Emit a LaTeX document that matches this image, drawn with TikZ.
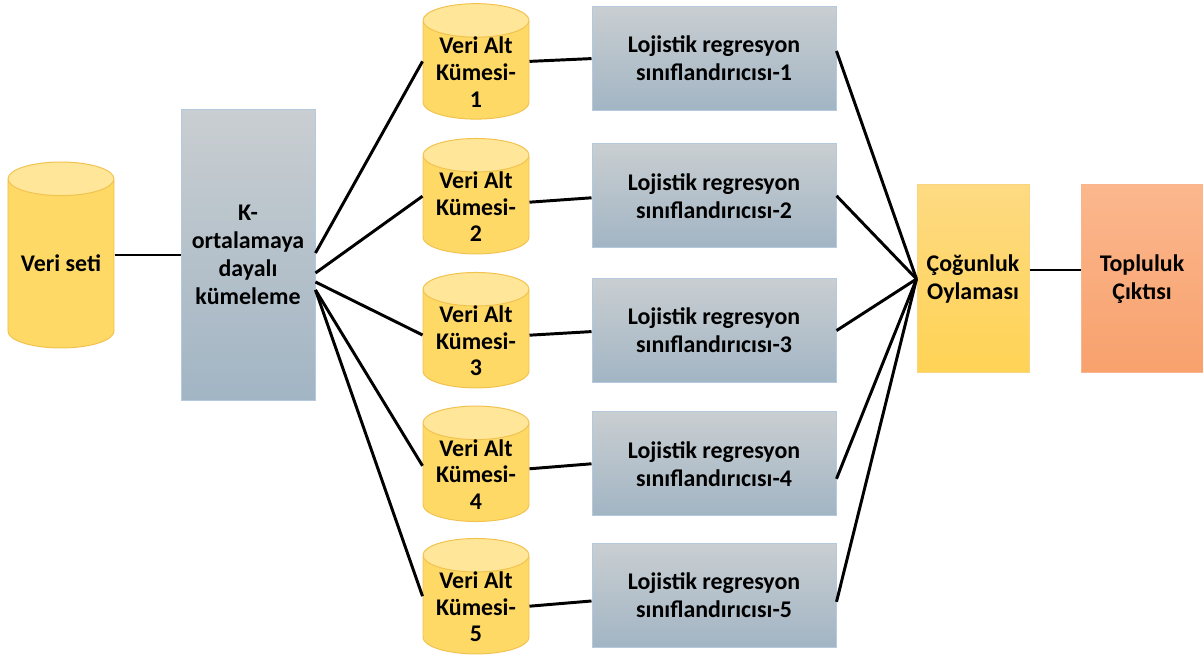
\documentclass[tikz,border=0pt]{standalone}
\usepackage{fontspec}
\setmainfont{Carlito}
\usepackage{tikz}
\usetikzlibrary{%
  shapes.geometric%
}
\definecolor{cylbody}{HTML}{FFD966}
\definecolor{cyltop}{HTML}{FFE699}
\definecolor{cylline}{HTML}{F2C24E}
\definecolor{greytop}{HTML}{C9CED1}
\definecolor{greybot}{HTML}{A2B5C4}
\definecolor{greyline}{HTML}{B4C8DE}
\definecolor{votetop}{HTML}{FEDA82}
\definecolor{votebot}{HTML}{FFD355}
\definecolor{voteline}{HTML}{F8D583}
\definecolor{outtop}{HTML}{FBB78D}
\definecolor{outbot}{HTML}{F8A16D}
\definecolor{outline}{HTML}{F9B58B}
\newcommand{\cyltext}[1]{\raisebox{0pt}[31pt][15pt]{\fontsize{17}{18.9}\selectfont
  \begin{tabular}{@{}c@{}}#1\end{tabular}}}

\begin{document}
\begin{tikzpicture}[
  font=\fontsize{17}{19.9}\selectfont\bfseries,
  link/.style={line width=2.1pt},
  datacyl/.style={cylinder, shape border rotate=90, aspect=0.42,
    draw=cylline, line width=0.7pt, cylinder uses custom fill,
    cylinder body fill=cylbody, cylinder end fill=cyltop,
    minimum width=2.65cm, inner sep=0pt, anchor=shape center},
  greybox/.style={rectangle, draw=greyline, line width=0.7pt,
    top color=greytop, bottom color=greybot, align=center}
]
\useasboundingbox (0,0) rectangle (30.075,16.375);

\node[datacyl, minimum height=4.65cm] (data) at (1.525,10.0) {Veri seti};
\node[greybox, minimum width=3.35cm, minimum height=7.25cm] (kmeans) at (6.2,10.0)
  {K-\\ortalamaya\\dayalı\\kümeleme};

\node[datacyl, minimum height=2.825cm] (sub1) at (11.9,14.84) {\cyltext{Veri Alt\\Kümesi-\\1}};
\node[datacyl, minimum height=2.825cm] (sub2) at (11.9,11.47) {\cyltext{Veri Alt\\Kümesi-\\2}};
\node[datacyl, minimum height=2.825cm] (sub3) at (11.9,8.12) {\cyltext{Veri Alt\\Kümesi-\\3}};
\node[datacyl, minimum height=2.825cm] (sub4) at (11.9,4.78) {\cyltext{Veri Alt\\Kümesi-\\4}};
\node[datacyl, minimum height=2.825cm] (sub5) at (11.9,1.47) {\cyltext{Veri Alt\\Kümesi-\\5}};

\node[greybox, minimum width=6.1cm, minimum height=2.6cm] (lr1) at (17.85,14.91)
  {Lojistik regresyon\\sınıflandırıcısı-1};
\node[greybox, minimum width=6.1cm, minimum height=2.6cm] (lr2) at (17.85,11.48)
  {Lojistik regresyon\\sınıflandırıcısı-2};
\node[greybox, minimum width=6.1cm, minimum height=2.6cm] (lr3) at (17.85,8.11)
  {Lojistik regresyon\\sınıflandırıcısı-3};
\node[greybox, minimum width=6.1cm, minimum height=2.6cm] (lr4) at (17.85,4.78)
  {Lojistik regresyon\\sınıflandırıcısı-4};
\node[greybox, minimum width=6.1cm, minimum height=2.6cm] (lr5) at (17.85,1.49)
  {Lojistik regresyon\\sınıflandırıcısı-5};

\node[rectangle, draw=voteline, line width=0.7pt, top color=votetop, bottom color=votebot,
  align=center, minimum width=2.8cm, minimum height=4.7cm] (vote) at (24.325,9.4)
  {Çoğunluk\\Oylaması};
\node[rectangle, draw=outline, line width=0.7pt, top color=outtop, bottom color=outbot,
  align=center, minimum width=3.05cm, minimum height=4.7cm] (out) at (28.55,9.4)
  {Topluluk\\Çıktısı};

\draw[link] (data.shape center -| data.east) -- (kmeans.west);

\draw[link] ([yshift=0.05cm]kmeans.east) -- (sub1.shape center -| sub1.west);
\draw[link] ([yshift=-0.45cm]kmeans.east) -- (sub2.shape center -| sub2.west);
\draw[link] ([yshift=-0.675cm]kmeans.east) -- ([yshift=-0.12cm]sub3.shape center -| sub3.west);
\draw[link] ([yshift=-0.875cm]kmeans.east) -- ([yshift=-0.05cm]sub4.shape center -| sub4.west);
\draw[link] ([yshift=-0.875cm]kmeans.east) -- (sub5.shape center -| sub5.west);

\draw[link] (sub1.shape center -| sub1.east) -- (lr1.west);
\draw[link] ([yshift=-0.15cm]sub2.shape center -| sub2.east) -- ([yshift=-0.05cm]lr2.west);
\draw[link] ([yshift=-0.125cm]sub3.shape center -| sub3.east) -- ([yshift=-0.025cm]lr3.west);
\draw[link] ([yshift=-0.125cm]sub4.shape center -| sub4.east) -- (lr4.west);
\draw[link] ([yshift=-0.25cm]sub5.shape center -| sub5.east) -- ([yshift=-0.14cm]lr5.west);

\draw[link] ([yshift=0.19cm]lr1.east) -- (vote.west);
\draw[link] (lr2.east) -- (vote.west);
\draw[link] (lr3.east) -- (vote.west);
\draw[link] ([yshift=-0.375cm]lr4.east) -- (vote.west);
\draw[link] ([yshift=-0.16cm]lr5.east) -- (vote.west);

\draw[link] ([yshift=0.225cm]vote.east) -- ([yshift=0.225cm]out.west);
\end{tikzpicture}
\end{document}
